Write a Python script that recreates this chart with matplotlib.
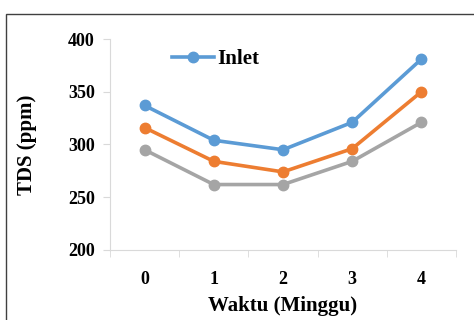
import matplotlib.pyplot as plt
from matplotlib.patches import Rectangle

weeks = [0, 1, 2, 3, 4]
inlet = [337, 304, 295, 321, 381]
mid = [316, 284, 274, 296, 350]
outlet = [295, 262, 262, 284, 321]

plt.rcParams['font.family'] = ['Liberation Serif', 'DejaVu Serif']
plt.rcParams['font.weight'] = 'bold'

fig = plt.figure(figsize=(4.74, 3.2), dpi=100)
ax = fig.add_axes([0.232, 0.219, 0.730, 0.659])

# outer frame of the chart area
fig.patches.append(Rectangle((6 / 474, -0.1), 1.2, 0.1 + 1 - 14 / 320,
                             transform=fig.transFigure, fill=False,
                             edgecolor='#404040', linewidth=1.0))

ax.plot(weeks, inlet, 'o-', color='#5B9BD5', lw=2.6, ms=7.5, label='Inlet')
ax.plot(weeks, mid, 'o-', color='#ED7D31', lw=2.6, ms=7.5)
ax.plot(weeks, outlet, 'o-', color='#A5A5A5', lw=2.6, ms=7.5)

ax.set_xlim(-0.5, 4.5)
ax.set_ylim(200, 400)
ax.set_yticks([200, 250, 300, 350, 400])
ax.set_xticks(weeks)
ax.set_xticks([-0.5, 0.5, 1.5, 2.5, 3.5, 4.5], minor=True)
ax.tick_params(axis='x', which='major', length=0, pad=15, labelsize=13)
ax.tick_params(axis='x', which='minor', length=5, color='#D9D9D9')
ax.tick_params(axis='y', length=5, color='#D9D9D9', labelsize=13, pad=6)

for s in ['top', 'right']:
    ax.spines[s].set_visible(False)
for s in ['left', 'bottom']:
    ax.spines[s].set_color('#D9D9D9')

ax.set_ylabel('TDS (ppm)', fontsize=15, fontweight='bold', labelpad=22)
ax.set_xlabel('Waktu (Minggu)', fontsize=15, fontweight='bold', labelpad=6)

ax.legend(loc='upper left', bbox_to_anchor=(0.125, 1.04), frameon=False,
          handlelength=2.0, handletextpad=0.15,
          prop={'weight': 'bold', 'size': 15})

fig.savefig('out.png', dpi=100)
